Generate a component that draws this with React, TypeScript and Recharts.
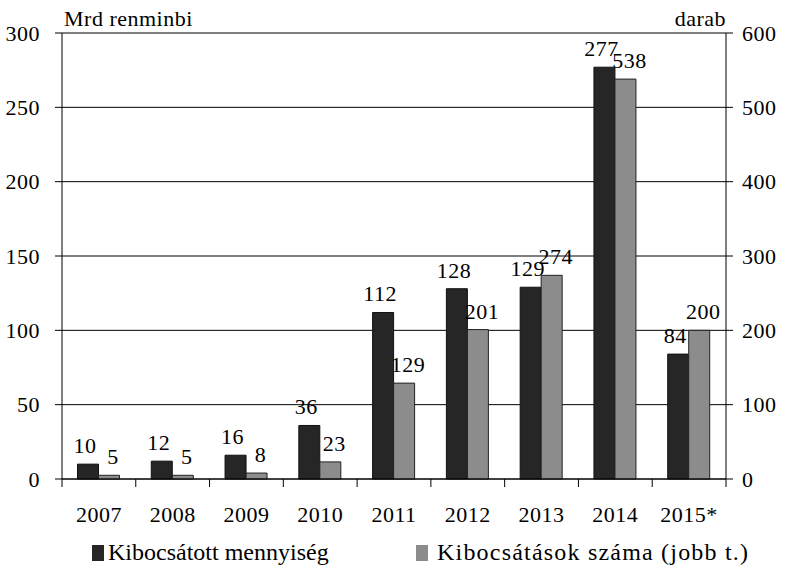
import React from "react";
import { BarChart, Bar, XAxis, YAxis, CartesianGrid, LabelList } from "recharts";

document.body.style.margin = "0";

const years = ["2007", "2008", "2009", "2010", "2011", "2012", "2013", "2014", "2015*"];
const amount = [10, 12, 16, 36, 112, 128, 129, 277, 84];
const issues = [5, 5, 8, 23, 129, 201, 274, 538, 200];
const leftTicks = [0, 50, 100, 150, 200, 250, 300];
const rightTicks = [0, 100, 200, 300, 400, 500, 600];

const data = years.map((year, i) => ({ year, amount: amount[i], issues: issues[i] }));

const W = 785;
const H = 566;
const LEFT_W = 62;
const RIGHT_W = 59;
const step = (W - LEFT_W - RIGHT_W) / years.length;
const font = "'Liberation Serif', 'Times New Roman', serif";
const txt = { fontFamily: font, fontSize: 22, fill: "#000", letterSpacing: 0.5 };

function YearTick(props: any) {
  const { x, y, payload, index } = props;
  return (
    <g>
      <line x1={x - step / 2} x2={x - step / 2} y1={y} y2={y + 8} stroke="#000" />
      {index === years.length - 1 && (
        <line x1={x + step / 2} x2={x + step / 2} y1={y} y2={y + 8} stroke="#000" />
      )}
      <text x={x} y={y + 43} textAnchor="middle" {...txt}>
        {payload.value}
      </text>
    </g>
  );
}

const makeLabel = (dx: number) => (props: any) => {
  const { x, y, width, value } = props;
  return (
    <text x={x + width / 2 + dx} y={y - 11} textAnchor="middle" {...txt}>
      {value}
    </text>
  );
};

const legendText = {
  position: "absolute" as const,
  top: 538,
  fontFamily: font,
  fontSize: 24,
  lineHeight: "28px",
  whiteSpace: "nowrap" as const,
};

export default function App() {
  return (
    <div style={{ position: "relative", width: W, height: H, overflow: "hidden", background: "#fff" }}>
      <BarChart
        width={W}
        height={H}
        data={data}
        margin={{ top: 33, right: 0, left: 0, bottom: 37 }}
        barCategoryGap="21%"
        barGap={0}
      >
        <CartesianGrid vertical={false} stroke="#000" yAxisId="left" />
        <XAxis
          dataKey="year"
          height={50}
          tickSize={0}
          tickMargin={0}
          tickLine={false}
          axisLine={{ stroke: "#000" }}
          interval={0}
          tick={<YearTick />}
        />
        <YAxis
          yAxisId="left"
          width={LEFT_W}
          domain={[0, 300]}
          ticks={leftTicks}
          tickSize={7}
          tickMargin={15}
          tickLine={{ stroke: "#000" }}
          axisLine={{ stroke: "#000" }}
          tick={txt}
        />
        <YAxis
          yAxisId="right"
          orientation="right"
          width={RIGHT_W}
          domain={[0, 600]}
          ticks={rightTicks}
          tickSize={7}
          tickMargin={9}
          tickLine={{ stroke: "#000" }}
          axisLine={{ stroke: "#000" }}
          tick={{ ...txt, textAnchor: "start" }}
        />
        <Bar yAxisId="left" dataKey="amount" fill="#262626" stroke="#111" isAnimationActive={false}>
          <LabelList dataKey="amount" content={makeLabel(-3)} />
        </Bar>
        <Bar yAxisId="right" dataKey="issues" fill="#8c8c8c" stroke="#222" isAnimationActive={false}>
          <LabelList dataKey="issues" content={makeLabel(4)} />
        </Bar>
        <text x={64} y={26} {...txt}>Mrd renminbi</text>
        <text x={726} y={26} textAnchor="end" {...txt}>darab</text>
      </BarChart>
      <div style={{ position: "absolute", left: 92, top: 545, width: 12, height: 16, background: "#262626" }} />
      <div style={{ ...legendText, left: 108 }}>Kibocsátott mennyiség</div>
      <div style={{ position: "absolute", left: 416, top: 545, width: 12, height: 16, background: "#8c8c8c" }} />
      <div style={{ ...legendText, left: 437, letterSpacing: 1.2 }}>Kibocsátások száma (jobb t.)</div>
    </div>
  );
}
